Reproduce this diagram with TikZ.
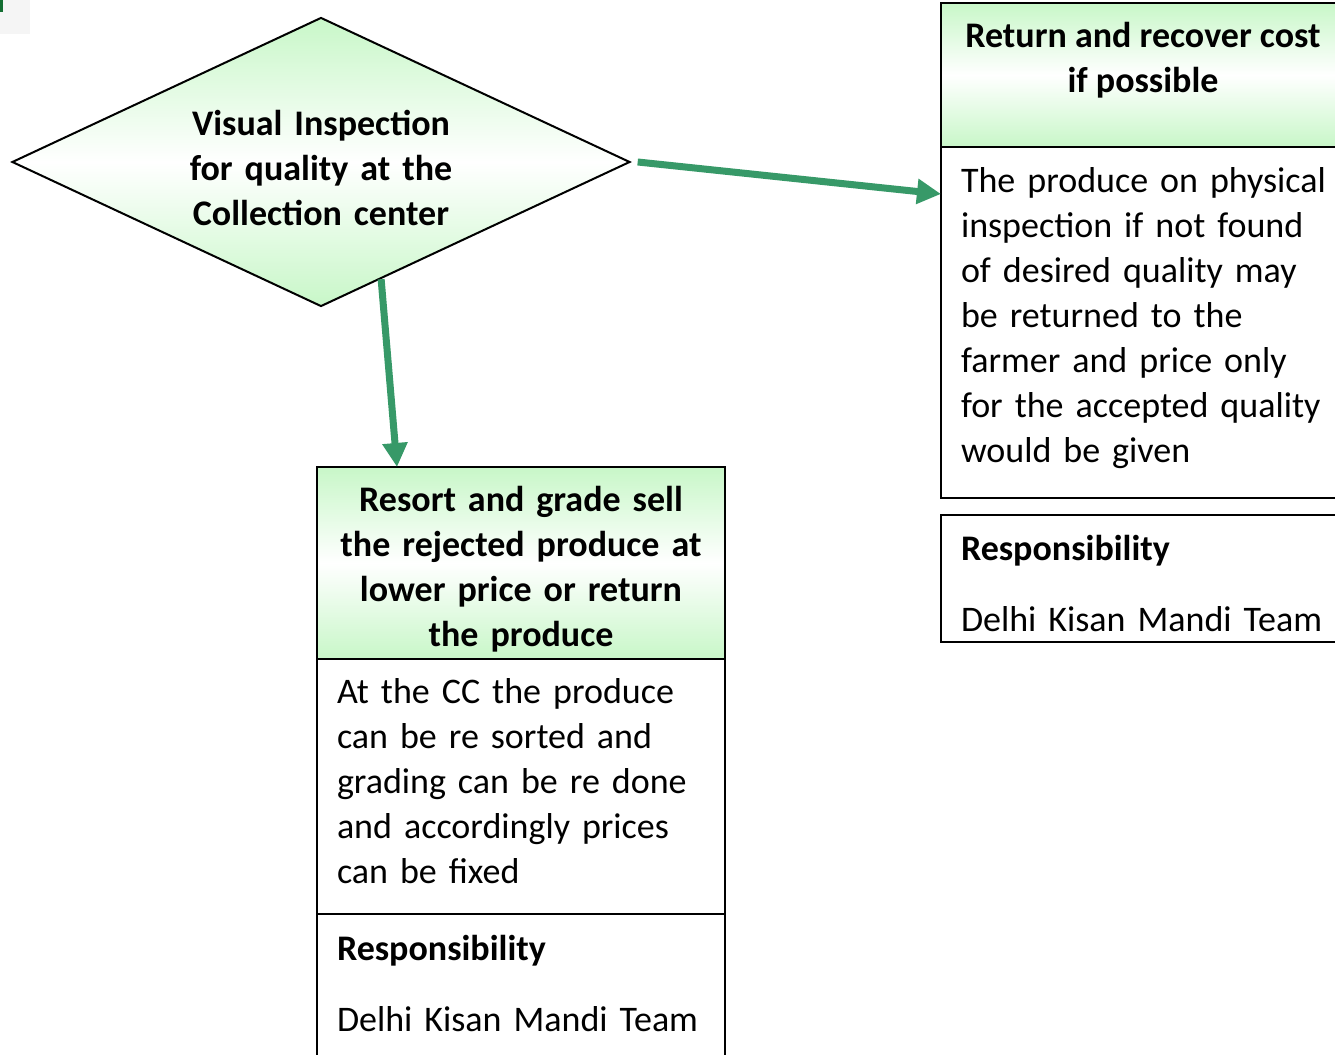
\documentclass[tikz,border=0pt]{standalone}
\usepackage{fontspec}
\setmainfont{Carlito}
\definecolor{flowgreen}{RGB}{55, 153, 104}
\definecolor{paleleaf}{RGB}{200, 247, 200}
\definecolor{markgreen}{RGB}{20, 110, 50}
\usepackage{tikz}
\usetikzlibrary{shapes.geometric, arrows.meta, positioning, calc}

\tikzset{
  headbox/.style={draw, line width=1.8pt, top color=paleleaf, bottom color=paleleaf, middle color=white, anchor=north west, inner sep=0pt, outer sep=0pt},
  bodybox/.style={draw, line width=1.8pt, fill=white, anchor=north west, inner xsep=15pt, inner ysep=0pt, outer sep=0pt, align=left},
  flowarrow/.style={draw=flowgreen, line width=5.25pt, -{Triangle[length=18pt, width=18pt]}},
  headtext/.style={font=\bfseries, align=center},
  lift/.style={execute at end node={\par\kern#1\relax}}
}

\begin{document}
\begin{tikzpicture}[x=0.75pt, y=-0.75pt]
  \clip (0,0) rectangle (1335,1055);
  \fill[white] (0,0) rectangle (1335,1055);
  \fontsize{27}{33.75}\selectfont
  % stray corner mark
  \fill[black!4] (0,0) rectangle (30,34);
  \fill[markgreen] (0,0) rectangle (2.5,12);

  % decision
  \node[diamond, aspect=2.14, draw, line width=1.5pt, top color=paleleaf, bottom color=paleleaf, middle color=white,
        minimum width=463.5pt, minimum height=216.75pt, inner sep=0pt, text width=200pt, headtext, lift=-9pt] (inspect) at (321,162)
    {Visual Inspection\\for quality at the\\Collection center};

  % right column
  \node[headbox, minimum width=315pt, minimum height=108pt] (rhead) at (941,3) {};
  \node[headtext] (rheadtxt) at (1143,60) {Return and recover cost\\if possible};
  \node[bodybox, text width=285pt, minimum height=263.25pt, lift=6.75pt, below=0pt of rhead.south west, anchor=north west] (rbody)
    {The produce on physical\\inspection if not found\\of desired quality may\\be returned to the\\farmer and price only\\for the accepted quality\\would be given};
  \node[bodybox, text width=285pt, minimum height=95.25pt, lift=-7.5pt, below=12.75pt of rbody.south west, anchor=north west] (rresp)
    {\textbf{Responsibility}\\[19.5pt]Delhi Kisan Mandi Team};

  % bottom column
  \node[headbox, minimum width=306pt, minimum height=144pt, text width=276pt, headtext, lift=-9pt] (bhead) at (317,467)
    {Resort and grade sell\\the rejected produce at\\lower price or return\\the produce};
  \node[bodybox, text width=276pt, minimum height=191.25pt, lift=8.25pt, below=0pt of bhead.south west, anchor=north west] (bbody)
    {At the CC the produce\\can be re sorted and\\grading can be re done\\and accordingly prices\\can be fixed};
  \node[bodybox, text width=276pt, minimum height=112.5pt, lift=8.25pt, below=0pt of bbody.south west, anchor=north west] (bresp)
    {\textbf{Responsibility}\\[19.5pt]Delhi Kisan Mandi Team};

  % connectors
  \draw[flowarrow] ([xshift=5pt]inspect.east) -- ($(rbody.north west)+(0,47)$);
  \draw[flowarrow] ($(inspect.south)!0.194!(inspect.east)$) -- ($(bhead.north west)+(80,0)$);
\end{tikzpicture}
\end{document}
